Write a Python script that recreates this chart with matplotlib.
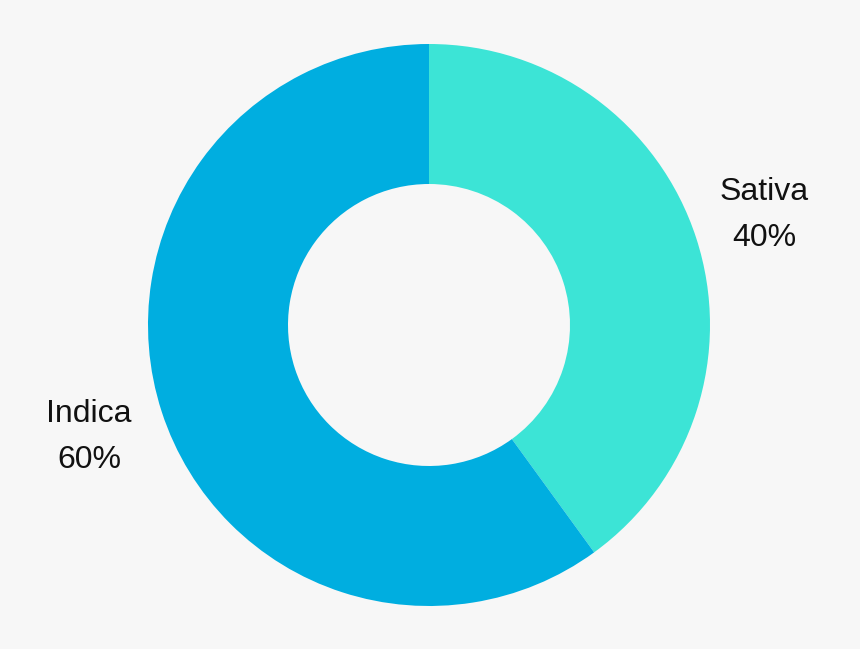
import matplotlib
matplotlib.use("Agg")
import matplotlib.pyplot as plt

labels = ["Sativa", "Indica"]
shares = [40, 60]
colors = ["#3ce4d6", "#00aee0"]

fig = plt.figure(figsize=(8.6, 6.49), dpi=100)
fig.patch.set_facecolor("#f7f7f7")
ax = fig.add_axes([0, 0, 1, 1])

# y axis is inverted (pixel-like coords), so angle 270 is the visual top
# and counterclockwise in data space is clockwise on screen
ax.pie(shares, colors=colors, startangle=270, counterclock=True,
       center=(429, 325), radius=281, frame=True,
       wedgeprops=dict(width=140, linewidth=0))
ax.set_xlim(0, 860)
ax.set_ylim(649, 0)
ax.axis("off")

label_pos = [(764, 215), (89, 437)]
for name, val, (x, y) in zip(labels, shares, label_pos):
    ax.text(x, y, f"{name}\n{val}%", ha="center", va="center",
            fontsize=23, family="Liberation Sans", color="#111111",
            linespacing=1.7)

fig.savefig("out.png", dpi=100, facecolor=fig.get_facecolor())
